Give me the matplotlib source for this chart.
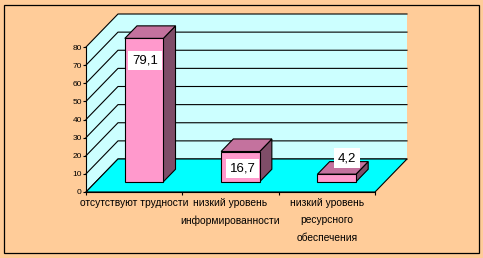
import matplotlib
matplotlib.use("Agg")
import matplotlib.pyplot as plt
from matplotlib.patches import Rectangle

# ---- data ----
categories = ["отсутствуют трудности",
              "низкий уровень\nинформированности",
              "низкий уровень\nресурсного\nобеспечения"]
values = [79.1, 16.7, 4.2]
value_labels = ["79,1", "16,7", "4,2"]
y_ticks = [0, 10, 20, 30, 40, 50, 60, 70, 80]

# ---- style / layout ----
FONT = ["Liberation Sans", "DejaVu Sans"]
plt.rcParams["font.family"] = FONT
BG = "#FFCC99"
WALL = "#CCFFFF"
FLOOR = "#00FFFF"
FRONT = "#FF99CC"
TOP = "#C4729E"
SIDE = "#7F4D68"
W, H = 483, 258
# front plane in pixels
PX_L, PX_R, PX_B, PX_T = 86, 375, 192, 47
YMAX = 80
NCAT = len(categories)
DX = 32 / ((PX_R - PX_L) / NCAT)        # depth shift in category units
DY = 33 / ((PX_B - PX_T) / YMAX)        # depth shift in value units
BAR_W, D0, D1 = 0.4, 0.31, 0.69
label_offsets = [(1, -22), (2, -17), (10, 16)]  # pixels

fig = plt.figure(figsize=(W / 100, H / 100), dpi=100)
fig.patch.set_facecolor(BG)
fig.add_artist(Rectangle((4 / W, 5 / H), 475 / W, 248 / H, transform=fig.transFigure,
                         fill=False, edgecolor="black", lw=0.9))

ax = fig.add_axes([PX_L / W, (H - PX_B) / H, (PX_R - PX_L) / W, (PX_B - PX_T) / H])
ax.set_xlim(0, NCAT)
ax.set_ylim(0, YMAX)
ax.patch.set_visible(False)
for s in ["top", "right"]:
    ax.spines[s].set_visible(False)
for s in ["left", "bottom"]:
    ax.spines[s].set_linewidth(0.8)
    ax.spines[s].set_zorder(6)

kw = dict(clip_on=False)
# side wall
ax.fill([0, DX, DX, 0], [0, DY, YMAX + DY, YMAX], color=WALL, lw=0, zorder=1, **kw)
# back wall
ax.fill([DX, NCAT + DX, NCAT + DX, DX], [DY, DY, YMAX + DY, YMAX + DY],
        color=WALL, lw=0, zorder=1, **kw)
# gridlines
for t in y_ticks:
    ax.plot([0, DX, NCAT + DX], [t, t + DY, t + DY], color="black", lw=0.8, zorder=2, **kw)
# floor
ax.fill([0, NCAT, NCAT + DX, DX], [0, 0, DY, DY], facecolor=FLOOR, edgecolor="black",
        lw=0.8, zorder=3, **kw)

# bars
for i, v in enumerate(values):
    c = i + 0.5
    xl0, xr0 = c - BAR_W / 2 + D0 * DX, c + BAR_W / 2 + D0 * DX
    xl1, xr1 = c - BAR_W / 2 + D1 * DX, c + BAR_W / 2 + D1 * DX
    yb0, yt0 = D0 * DY, v + D0 * DY
    yb1, yt1 = D1 * DY, v + D1 * DY
    ekw = dict(edgecolor="black", lw=0.8, zorder=4, joinstyle="miter", **kw)
    ax.fill([xr0, xr1, xr1, xr0], [yb0, yb1, yt1, yt0], facecolor=SIDE, **ekw)
    ax.fill([xl0, xr0, xr1, xl1], [yt0, yt0, yt1, yt1], facecolor=TOP, **ekw)
    ax.fill([xl0, xr0, xr0, xl0], [yb0, yb0, yt0, yt0], facecolor=FRONT, **ekw)
    ax.annotate(value_labels[i], xy=((xl0 + xr0) / 2, yt0), xytext=label_offsets[i],
                textcoords="offset pixels", ha="center", va="center", fontsize=9.5,
                zorder=7, annotation_clip=False,
                bbox=dict(boxstyle="square,pad=0.28", facecolor="white", edgecolor="none"))

# axes ticks
ax.set_yticks(y_ticks)
ax.set_yticklabels([str(t) for t in y_ticks])
ax.tick_params(axis="y", direction="out", length=2.2, width=0.8, pad=0.8, labelsize=6)
ax.set_xticks(range(NCAT + 1))
ax.set_xticklabels([])
ax.tick_params(axis="x", which="major", direction="out", length=2.5, width=0.8)
ax.set_xticks([i + 0.5 for i in range(NCAT)], minor=True)
ax.set_xticklabels(categories, minor=True, fontsize=7.4, linespacing=1.9)
ax.tick_params(axis="x", which="minor", length=0, pad=4.5)

fig.savefig("out.png", dpi=100, facecolor=fig.get_facecolor())
